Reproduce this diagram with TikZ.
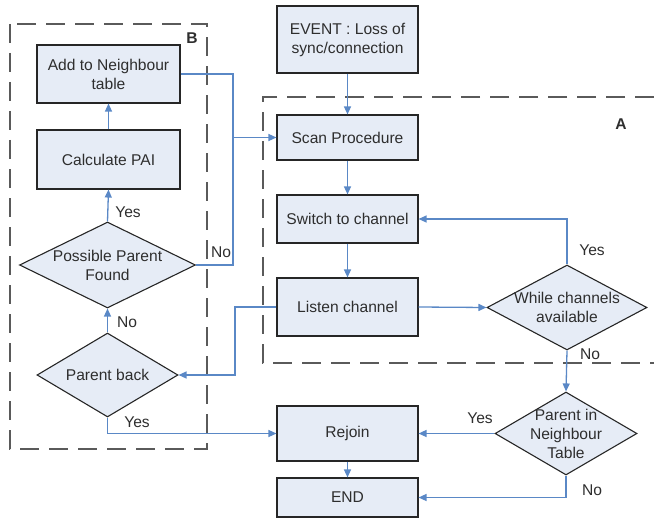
\documentclass[tikz,border=0pt]{standalone}
\usepackage{fontspec}
\setmainfont{Liberation Sans}
\usetikzlibrary{shapes.geometric,arrows.meta}
\definecolor{boxfill}{HTML}{E6ECF6}
\definecolor{conn}{HTML}{5A88C6}
\definecolor{dashc}{HTML}{5A5A5A}
\definecolor{txtc}{HTML}{2E2E2E}
\begin{document}
\begin{tikzpicture}[x=1bp,y=-1bp,
  every node/.style={font=\fontsize{15.6bp}{19bp}\selectfont, text=txtc},
  procbox/.style={draw=black!85, line width=1.1bp, fill=boxfill, rectangle, inner sep=0pt, align=center},
  decis/.style={draw=black!85, line width=1.1bp, fill=boxfill, diamond, inner sep=0pt},
  dtext/.style={align=center, inner sep=0pt},
  flow/.style={draw=conn, line width=1.3bp},
  flowa/.style={flow, -{Triangle[length=8bp,width=7bp]}},
  region/.style={draw=dashc, line width=1.9bp, dash pattern=on 19bp off 10bp},
  lbl/.style={inner sep=0pt},
  reglbl/.style={inner sep=0pt, font=\fontsize{15.6bp}{19bp}\selectfont\bfseries}
]
\useasboundingbox (0,0) rectangle (654,523);

% regions
\draw[region] (10,24) rectangle (207,449);
\draw[region] (654,97) -- (263,97) -- (263,363) -- (654,363);
\node[reglbl] (labB) at (192,38) {B};
\node[reglbl] (labA) at (621,124) {A};

% left column
\node[procbox, minimum width=143bp, minimum height=58bp] (add) at (108.5,74) {Add to Neighbour\\table};
\node[procbox, minimum width=143bp, minimum height=59bp] (calc) at (108.5,159.5) {Calculate PAI};
\node[decis, minimum width=176bp, minimum height=86bp] (ppf) at (107.5,265) {};
\node[dtext] (ppft) at (ppf) {Possible Parent\\Found};
\node[decis, minimum width=141bp, minimum height=84bp] (pb) at (107.5,375) {};
\node[dtext] (pbt) at (pb) {Parent back};

% middle column
\node[procbox, minimum width=141bp, minimum height=67bp] (event) at (347.5,39.5) {EVENT : Loss of\\sync/connection};
\node[procbox, minimum width=141bp, minimum height=45bp] (scan) at (347.5,137.5) {Scan Procedure};
\node[procbox, minimum width=141bp, minimum height=48bp] (switch) at (347.5,219) {Switch to channel};
\node[procbox, minimum width=141bp, minimum height=58bp] (listen) at (347.5,307) {Listen channel};
\node[procbox, minimum width=141bp, minimum height=55bp] (rejoin) at (347.5,433.5) {Rejoin};
\node[procbox, minimum width=141bp, minimum height=39bp] (end) at (347.5,497.5) {END};

% right column
\node[decis, minimum width=160bp, minimum height=85bp] (wca) at (567,307.5) {};
\node[dtext] (wcat) at (wca) {While channels\\available};
\node[decis, minimum width=142bp, minimum height=83bp] (pnt) at (566,433.5) {};
\node[dtext] (pntt) at (pnt) {Parent in\\Neighbour\\Table};

% junction coordinates
\coordinate (jb) at (233,265);
\coordinate (j1) at (233,137.5);
\coordinate (k) at (235,307);

% connectors
\draw[flowa] (calc.north) -- (add.south);
\draw[flowa] (ppf.north) -- (calc.south);
\draw[flowa] (pb.north) -- (ppf.south);
\draw[flow] (add.east) -| (jb) -- (ppf.east);
\draw[flowa] (j1) -- (scan.west);
\draw[flowa] (pb.south) |- (rejoin.west);
\draw[flowa] (listen.west) -- (k) |- (pb.east);
\draw[flowa] (event.south) -- (scan.north);
\draw[flowa] (scan.south) -- (switch.north);
\draw[flowa] (switch.south) -- (listen.north);
\draw[flowa] (rejoin.south) -- (end.north);
\draw[flowa] (listen.east) -- (wca.west);
\draw[flowa] (wca.north) |- (switch.east);
\draw[flowa] (wca.south) -- (pnt.north);
\draw[flowa] (pnt.west) -- (rejoin.east);
\draw[flowa] (pnt.south) |- (end.east);

% connector labels
\node[lbl] (y1) at (128,212) {Yes};
\node[lbl] (n1) at (221,252) {No};
\node[lbl] (n2) at (127,322) {No};
\node[lbl] (y2) at (137,422) {Yes};
\node[lbl] (y3) at (592,250) {Yes};
\node[lbl] (n3) at (590,354) {No};
\node[lbl] (y4) at (480,418) {Yes};
\node[lbl] (n4) at (592,490) {No};
\end{tikzpicture}
\end{document}
